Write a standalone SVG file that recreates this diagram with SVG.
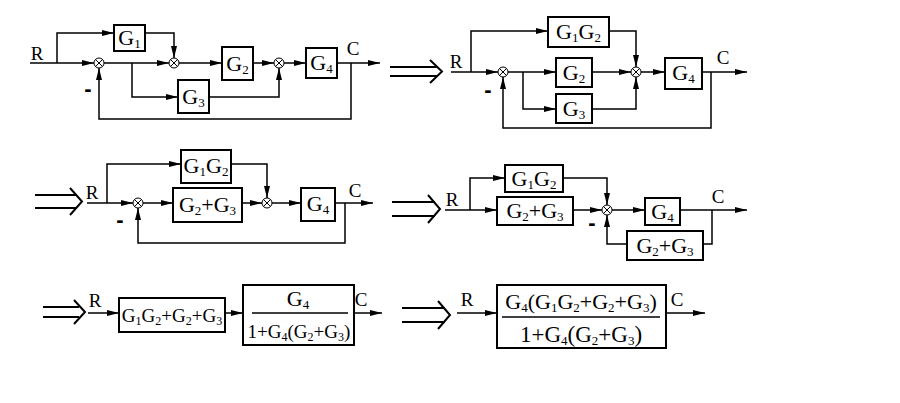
<svg xmlns="http://www.w3.org/2000/svg" width="900" height="403" viewBox="0 0 900 403">
<style>
.bg{fill:#fff}
.b{fill:#fff;stroke:#000;stroke-width:2}
.l{fill:none;stroke:#000;stroke-width:1.5}
.a{fill:none;stroke:#000;stroke-width:1.5;marker-end:url(#ar)}
.d{fill:none;stroke:#000;stroke-width:2}
.s{fill:#fff;stroke:#000;stroke-width:1}
.t{font-family:"Liberation Serif",serif;font-size:22px;fill:#000;text-anchor:middle}
.u{font-size:13px}
.lb{font-family:"Liberation Serif",serif;font-size:19px;fill:#000;text-anchor:middle}
.m{font-family:"Liberation Sans",sans-serif;font-size:22px;font-weight:bold;fill:#000;text-anchor:middle}
</style>
<defs>
<marker id="ar" markerUnits="userSpaceOnUse" viewBox="0 0 12 6" refX="12" refY="3" markerWidth="12" markerHeight="6" orient="auto"><path d="M0 0L12 3L0 6z" fill="#000"/></marker>
<g id="sum"><circle r="5" class="s"/><path d="M-3.5 -3.5L3.5 3.5M-3.5 3.5L3.5 -3.5" stroke="#000" stroke-width="1"/></g>
</defs>
<rect class="bg" width="900" height="403"/>
<g id="connectors">
<path class="a" d="M30 63H94"/>
<path class="a" d="M57 63V33H114"/>
<path class="a" d="M145 33H174V58"/>
<path class="a" d="M104 63H169"/>
<path class="a" d="M132 63V97H178"/>
<path class="a" d="M209 97H279V68"/>
<path class="a" d="M179 63H222"/>
<path class="a" d="M253 63H274"/>
<path class="a" d="M284 63H306"/>
<path class="a" d="M337 63H380"/>
<path class="a" d="M351 63V119H99V68"/>
<path class="d" d="M390 67H437M390 76H437M430 60L442 71.5L430 83"/>
<path class="a" d="M451 72H498"/>
<path class="a" d="M471 72V31H548"/>
<path class="a" d="M609 31H636V67"/>
<path class="a" d="M508 72H556"/>
<path class="a" d="M523 72V109H556"/>
<path class="a" d="M592 72H631"/>
<path class="a" d="M592 109H636V77"/>
<path class="a" d="M641 72H665"/>
<path class="a" d="M702 72H747"/>
<path class="a" d="M711 72V128H503V77"/>
<path class="d" d="M35 195H77M35 208H77M70 188L82 201.5L70 215"/>
<path class="a" d="M87 203H133"/>
<path class="a" d="M107 203V164H181"/>
<path class="a" d="M231 164H267V198"/>
<path class="a" d="M143 203H173"/>
<path class="a" d="M242 203H262"/>
<path class="a" d="M272 203H301"/>
<path class="a" d="M335 203H373"/>
<path class="a" d="M345 203V243H138V208"/>
<path class="d" d="M392 202H435M392 216H435M428 195L440 209L428 223"/>
<path class="a" d="M445 210H497"/>
<path class="a" d="M470 210V178H505"/>
<path class="a" d="M563 178H607V205"/>
<path class="a" d="M573 210H602"/>
<path class="a" d="M612 210H645"/>
<path class="a" d="M680 210H747"/>
<path class="l" d="M712 210V244H703"/>
<path class="a" d="M627 244H607V215"/>
<path class="d" d="M43 307H79M43 317H79M74 300L85 312L74 324"/>
<path class="a" d="M88 313H119"/>
<path class="a" d="M225 313H243"/>
<path class="a" d="M354 313H382"/>
<path class="d" d="M402 308H445M402 322H445M438 301L450 315L438 329"/>
<path class="a" d="M457 313H497"/>
<path class="a" d="M666 313H705"/>
</g>
<g id="sums">
<use href="#sum" x="99" y="63"/><use href="#sum" x="174" y="63"/><use href="#sum" x="279" y="63"/>
<use href="#sum" x="503" y="72"/><use href="#sum" x="636" y="72"/>
<use href="#sum" x="138" y="203"/><use href="#sum" x="267" y="203"/>
<use href="#sum" x="607" y="210"/>
</g>
<g id="labels">
<text class="lb" x="37" y="60">R</text><text class="lb" x="353" y="55">C</text><text class="m" x="88" y="96">-</text>
<text class="lb" x="456" y="68">R</text><text class="lb" x="723" y="64">C</text><text class="m" x="488" y="97">-</text>
<text class="lb" x="92" y="199">R</text><text class="lb" x="355" y="197">C</text><text class="m" x="120" y="227">-</text>
<text class="lb" x="452" y="206">R</text><text class="lb" x="718" y="203">C</text><text class="m" x="592" y="230">-</text>
<text class="lb" x="95" y="307">R</text><text class="lb" x="361" y="306">C</text>
<text class="lb" x="467" y="306">R</text><text class="lb" x="677" y="306">C</text>
</g>
<g id="n-G1"><rect class="b" x="114" y="25" width="31" height="26"/><text class="t" x="129.5" y="45">G<tspan class="u" dy="3">1</tspan></text></g>
<g id="n-G2"><rect class="b" x="222" y="47" width="31" height="33"/><text class="t" x="237.5" y="71">G<tspan class="u" dy="3">2</tspan></text></g>
<g id="n-G3"><rect class="b" x="178" y="80" width="31" height="33"/><text class="t" x="193.5" y="104">G<tspan class="u" dy="3">3</tspan></text></g>
<g id="n-G4"><rect class="b" x="306" y="48" width="31" height="30"/><text class="t" x="321.5" y="70">G<tspan class="u" dy="3">4</tspan></text></g>
<g id="n2-G1G2"><rect class="b" x="548" y="17" width="61" height="30"/><text class="t" x="578.5" y="39">G<tspan class="u" dy="3">1</tspan><tspan dy="-3">G</tspan><tspan class="u" dy="3">2</tspan></text></g>
<g id="n2-G2"><rect class="b" x="556" y="58" width="36" height="29"/><text class="t" x="574" y="80">G<tspan class="u" dy="3">2</tspan></text></g>
<g id="n2-G3"><rect class="b" x="556" y="94" width="36" height="29"/><text class="t" x="574" y="116">G<tspan class="u" dy="3">3</tspan></text></g>
<g id="n2-G4"><rect class="b" x="665" y="58" width="37" height="31"/><text class="t" x="683.5" y="80">G<tspan class="u" dy="3">4</tspan></text></g>
<g id="n3-G1G2"><rect class="b" x="181" y="150" width="50" height="33"/><text class="t" x="206" y="173">G<tspan class="u" dy="3">1</tspan><tspan dy="-3">G</tspan><tspan class="u" dy="3">2</tspan></text></g>
<g id="n3-G2G3"><rect class="b" x="173" y="188" width="69" height="34"/><text class="t" x="207.5" y="212">G<tspan class="u" dy="3">2</tspan><tspan dy="-3">+G</tspan><tspan class="u" dy="3">3</tspan></text></g>
<g id="n3-G4"><rect class="b" x="301" y="188" width="34" height="33"/><text class="t" x="318" y="211">G<tspan class="u" dy="3">4</tspan></text></g>
<g id="n4-G1G2"><rect class="b" x="505" y="165" width="58" height="27"/><text class="t" x="534" y="186">G<tspan class="u" dy="3">1</tspan><tspan dy="-3">G</tspan><tspan class="u" dy="3">2</tspan></text></g>
<g id="n4-G2G3"><rect class="b" x="497" y="197" width="76" height="28"/><text class="t" x="535" y="218">G<tspan class="u" dy="3">2</tspan><tspan dy="-3">+G</tspan><tspan class="u" dy="3">3</tspan></text></g>
<g id="n4-G4"><rect class="b" x="645" y="198" width="35" height="27"/><text class="t" x="662.5" y="219">G<tspan class="u" dy="3">4</tspan></text></g>
<g id="n4-H"><rect class="b" x="627" y="231" width="76" height="29"/><text class="t" x="665" y="253">G<tspan class="u" dy="3">2</tspan><tspan dy="-3">+G</tspan><tspan class="u" dy="3">3</tspan></text></g>
<g id="n5-A"><rect class="b" x="119" y="298" width="106" height="34"/><text class="t" x="172" y="322" style="font-size:19px">G<tspan class="u" dy="3" style="font-size:12px">1</tspan><tspan dy="-3">G</tspan><tspan class="u" dy="3" style="font-size:12px">2</tspan><tspan dy="-3">+G</tspan><tspan class="u" dy="3" style="font-size:12px">2</tspan><tspan dy="-3">+G</tspan><tspan class="u" dy="3" style="font-size:12px">3</tspan></text></g>
<g id="n5-B"><rect class="b" x="243" y="285" width="111" height="60"/><path class="l" d="M252 313H348"/><text class="t" x="298" y="306">G<tspan class="u" dy="3">4</tspan></text><text class="t" x="299" y="338" style="font-size:19px">1+G<tspan class="u" dy="3" style="font-size:12px">4</tspan><tspan dy="-3">(G</tspan><tspan class="u" dy="3" style="font-size:12px">2</tspan><tspan dy="-3">+G</tspan><tspan class="u" dy="3" style="font-size:12px">3</tspan><tspan dy="-3">)</tspan></text></g>
<g id="n6"><rect class="b" x="497" y="285" width="169" height="63"/><path class="l" d="M502 317H660"/><text class="t" x="581" y="309" style="font-size:22px">G<tspan class="u" dy="3">4</tspan><tspan dy="-3">(G</tspan><tspan class="u" dy="3">1</tspan><tspan dy="-3">G</tspan><tspan class="u" dy="3">2</tspan><tspan dy="-3">+G</tspan><tspan class="u" dy="3">2</tspan><tspan dy="-3">+G</tspan><tspan class="u" dy="3">3</tspan><tspan dy="-3">)</tspan></text><text class="t" x="581" y="342" style="font-size:23px">1+G<tspan class="u" dy="3">4</tspan><tspan dy="-3">(G</tspan><tspan class="u" dy="3">2</tspan><tspan dy="-3">+G</tspan><tspan class="u" dy="3">3</tspan><tspan dy="-3">)</tspan></text></g>
</svg>
